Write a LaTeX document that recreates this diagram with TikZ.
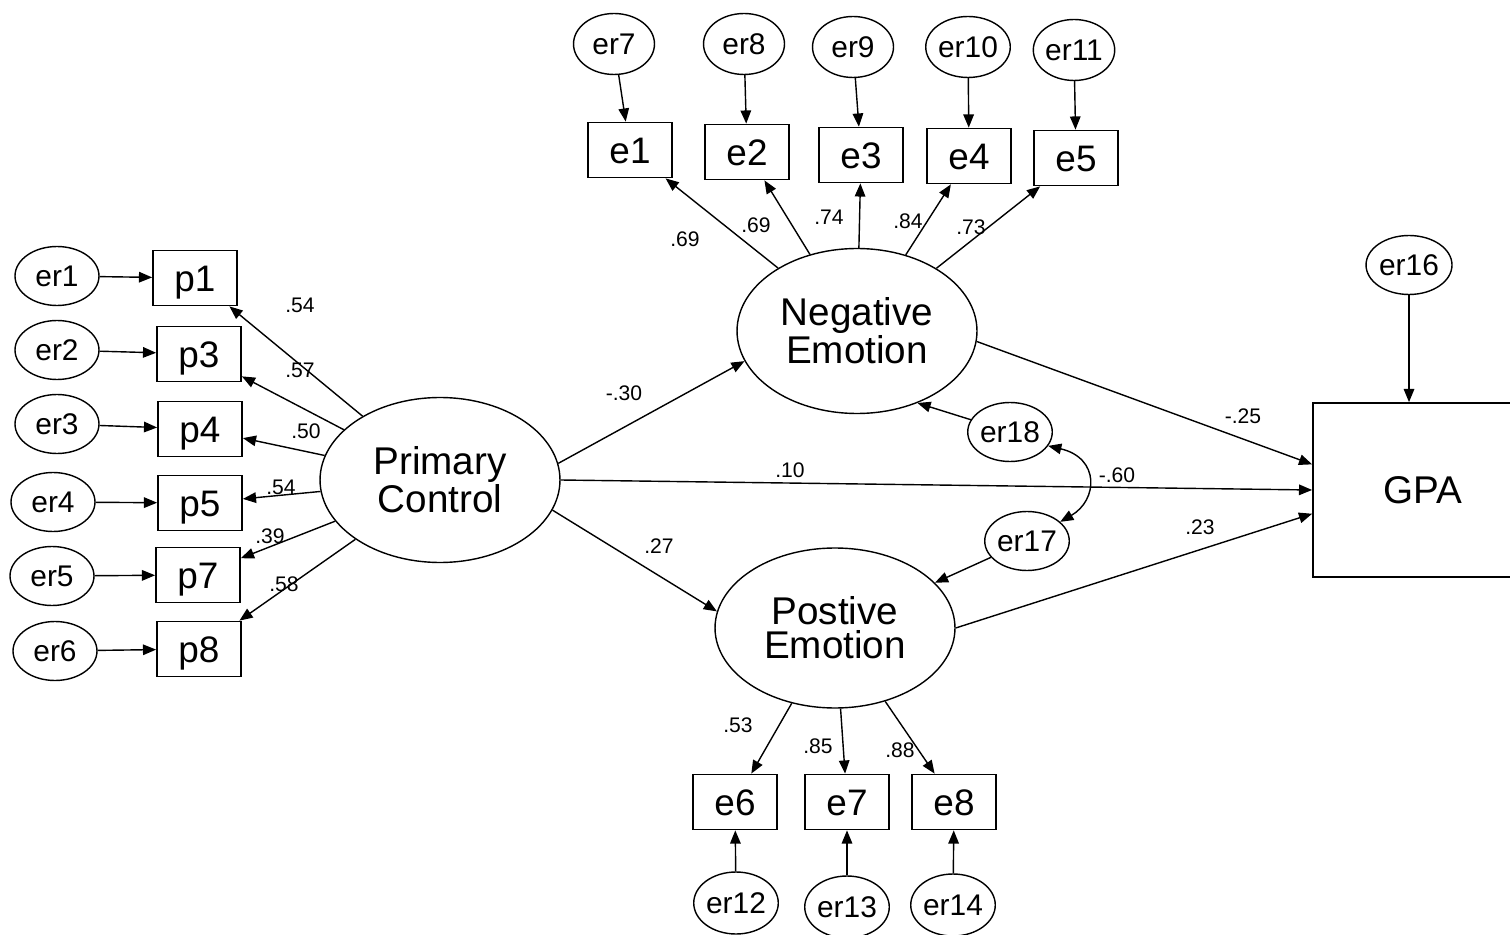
\documentclass[tikz,border=0pt]{standalone}
\usepackage{fontspec}
\setmainfont{Liberation Sans}
\usetikzlibrary{arrows.meta,shapes.geometric}

\begin{document}
\begin{tikzpicture}[x=0.02cm, y=-0.02cm, line width=0.8pt, obs/.style={draw, line width=1pt, minimum width=1.68cm, minimum height=1.1cm, inner sep=0pt, text height=15pt, text depth=0pt, font=\fontsize{21}{24}\selectfont}, err/.style={draw, ellipse, minimum width=1.68cm, minimum height=1.18cm, inner sep=0pt, text height=12.2pt, text depth=0pt, font=\fontsize{17}{20}\selectfont}, lat/.style={draw, ellipse, minimum width=4.8cm, minimum height=3.3cm, inner sep=0pt, align=center, font=\fontsize{22}{19.5}\selectfont}, lbl/.style={inner sep=0pt, font=\fontsize{12}{14}\selectfont}, arrow/.style={-{Triangle[length=7.5pt, width=6pt]}, line width=0.8pt}]
\useasboundingbox (0,0) rectangle (1510,935);
% latent variables and outcome
\node[lat] (pc) at (440,480) {Primary\\Control};
\node[lat] (ne) at (857,331) {Negative\\Emotion};
\node[lat, minimum height=3.2cm] (pe) at (835,628) {Postive\\Emotion};
\node[draw, line width=1pt, minimum width=4.08cm, minimum height=3.48cm, font=\fontsize{22}{24}\selectfont] (gpa) at (1415,490) {\hspace*{0.3cm}GPA};
% primary control indicators
\node[obs] (p1) at (195,278) {p1};
\node[obs] (p3) at (199,354) {p3};
\node[obs] (p4) at (200,429) {p4};
\node[obs] (p5) at (200,503) {p5};
\node[obs] (p7) at (198,575) {p7};
\node[obs] (p8) at (199,649) {p8};
\node[err] (er1) at (57,276) {er1};
\node[err] (er2) at (57,350) {er2};
\node[err] (er3) at (57,424) {er3};
\node[err] (er4) at (53,502) {er4};
\node[err] (er5) at (52,576) {er5};
\node[err] (er6) at (55,651) {er6};
% negative emotion indicators
\node[obs] (e1) at (630,150) {e1};
\node[obs] (e2) at (747,152) {e2};
\node[obs] (e3) at (861,155) {e3};
\node[obs] (e4) at (969,156) {e4};
\node[obs] (e5) at (1076,158) {e5};
\node[err, minimum width=1.62cm, minimum height=1.22cm] (er7) at (614,44) {er7};
\node[err, minimum width=1.62cm, minimum height=1.22cm] (er8) at (744,44) {er8};
\node[err, minimum width=1.62cm, minimum height=1.22cm] (er9) at (853,47) {er9};
\node[err, minimum width=1.62cm, minimum height=1.22cm] (er10) at (968,47) {er10};
\node[err, minimum width=1.62cm, minimum height=1.22cm] (er11) at (1074,50) {er11};
% positive emotion indicators
\node[obs] (e6) at (735,802) {e6};
\node[obs] (e7) at (847,802) {e7};
\node[obs] (e8) at (954,802) {e8};
\node[err, minimum height=1.24cm] (er12) at (736,903) {er12};
\node[err, minimum height=1.24cm] (er13) at (847,907) {er13};
\node[err, minimum height=1.24cm] (er14) at (953,905) {er14};
% disturbances
\node[err, minimum width=1.72cm] (er16) at (1409,265) {er16};
\node[err, minimum width=1.56cm] (er18) at (1010,432) {er18};
\node[err, minimum width=1.62cm] (er17) at (1027,541) {er17};
% arrows
\foreach \i/\j in {er1/p1, er2/p3, er3/p4, er4/p5, er5/p7, er6/p8, er7/e1, er8/e2, er9/e3, er10/e4, er11/e5, er12/e6, er13/e7, er14/e8, pc/p1, pc/p3, pc/p4, pc/p5, pc/p7, pc/p8, ne/e1, ne/e2, ne/e3, ne/e4, ne/e5, pe/e6, pe/e7, pe/e8, er17/pe}
  \draw[arrow] (\i) -- (\j);
\draw[arrow] (er16) -- (er16 |- gpa.north);
\draw[arrow] (er18) -- (ne.-50);
\draw[arrow] (pc.8) -- (ne.195);
\draw[arrow] (pc.-15) -- (pe.172);
\draw[arrow] (pc.east) -- (gpa.west);
\draw[arrow] (ne.-5) -- (gpa.166);
\draw[arrow] (pe.east) -- (gpa.193);
\draw[{Triangle[length=7.5pt, width=6pt]}-{Triangle[length=7.5pt, width=6pt]}] (er18.-20) .. controls (1100,458) and (1098,500) .. (er17.30);
% estimates
\node[lbl] (l1) at (300,305) {.54};
\node[lbl] (l3) at (300,370) {.57};
\node[lbl] (l4) at (306,431) {.50};
\node[lbl] (l5) at (281,487) {.54};
\node[lbl] (l7) at (270,536) {.39};
\node[lbl] (l8) at (284,584) {.58};
\node[lbl] (m1) at (685,239) {.69};
\node[lbl] (m2) at (756,225) {.69};
\node[lbl] (m3) at (829,217) {.74};
\node[lbl] (m4) at (908,221) {.84};
\node[lbl] (m5) at (971,227) {.73};
\node[lbl] (m6) at (738,725) {.53};
\node[lbl] (m7) at (818,746) {.85};
\node[lbl] (m8) at (900,750) {.88};
\node[lbl] (s1) at (624,393) {-.30};
\node[lbl] (s2) at (790,470) {.10};
\node[lbl] (s3) at (659,546) {.27};
\node[lbl] (s4) at (1243,416) {-.25};
\node[lbl] (s5) at (1117,475) {-.60};
\node[lbl] (s6) at (1200,527) {.23};
\end{tikzpicture}
\end{document}
